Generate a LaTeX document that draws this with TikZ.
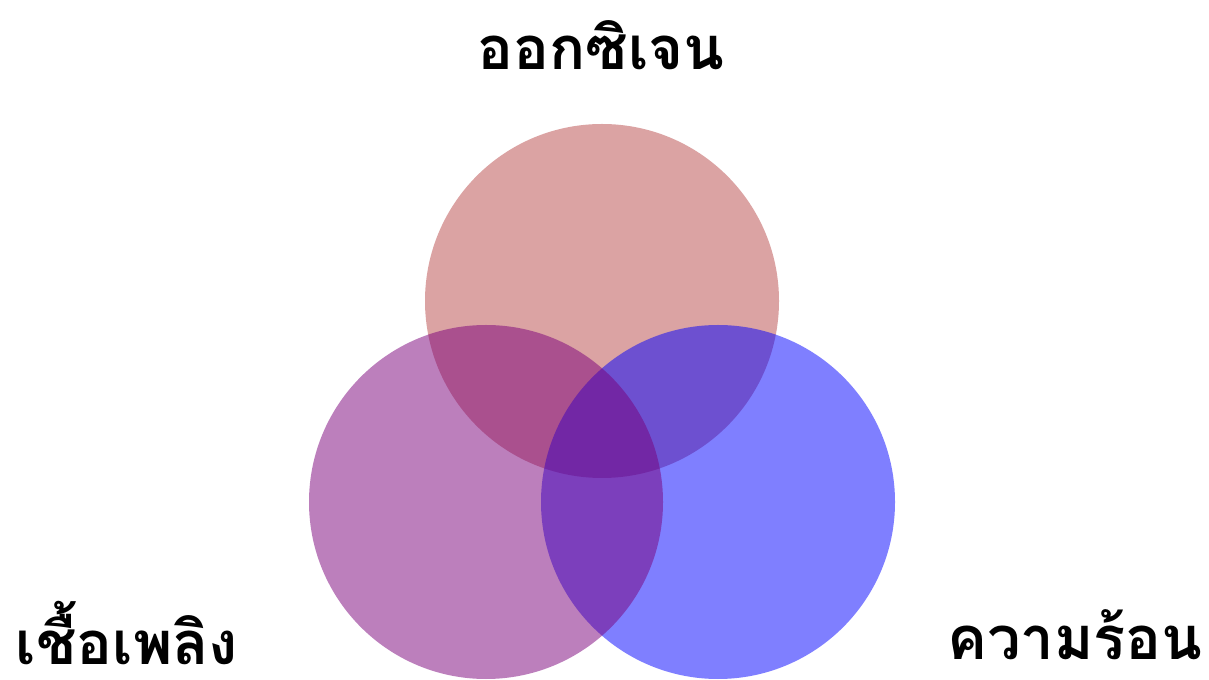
\documentclass[tikz,border=0pt]{standalone}
\usepackage{fontspec}
\newfontfamily\thaifont[Script=Thai]{Loma}
\usepackage{tikz}
\usetikzlibrary{positioning}

\definecolor{oxred}{RGB}{183,71,71}
\definecolor{fuelpurple}{RGB}{122,0,122}
\definecolor{heatblue}{RGB}{0,0,255}

\begin{document}
\begin{tikzpicture}[x=0.02cm,y=0.02cm,
  ring/.style={circle,minimum size=354*0.02cm,inner sep=0pt,fill opacity=0.5},
  label/.style={font=\thaifont\bfseries\fontsize{34}{40}\selectfont,inner sep=0pt,text depth=0pt,anchor=base}]
\useasboundingbox (0,0) rectangle (1209,679);
\node[ring,fill=oxred] (oxygen) at (602,378) {};
\node[ring,fill=heatblue] (heat) at (718,177) {};
\node[ring,fill=fuelpurple] (fuel) at (486,177) {};
\node[label] (oxlabel) at (601,609) {ออกซิเจน};
\node[label] (fuellabel) at (127,15) {เชื้อเพลิง};
\node[label] (heatlabel) at (1075,20) {ความร้อน};
\end{tikzpicture}
\end{document}
